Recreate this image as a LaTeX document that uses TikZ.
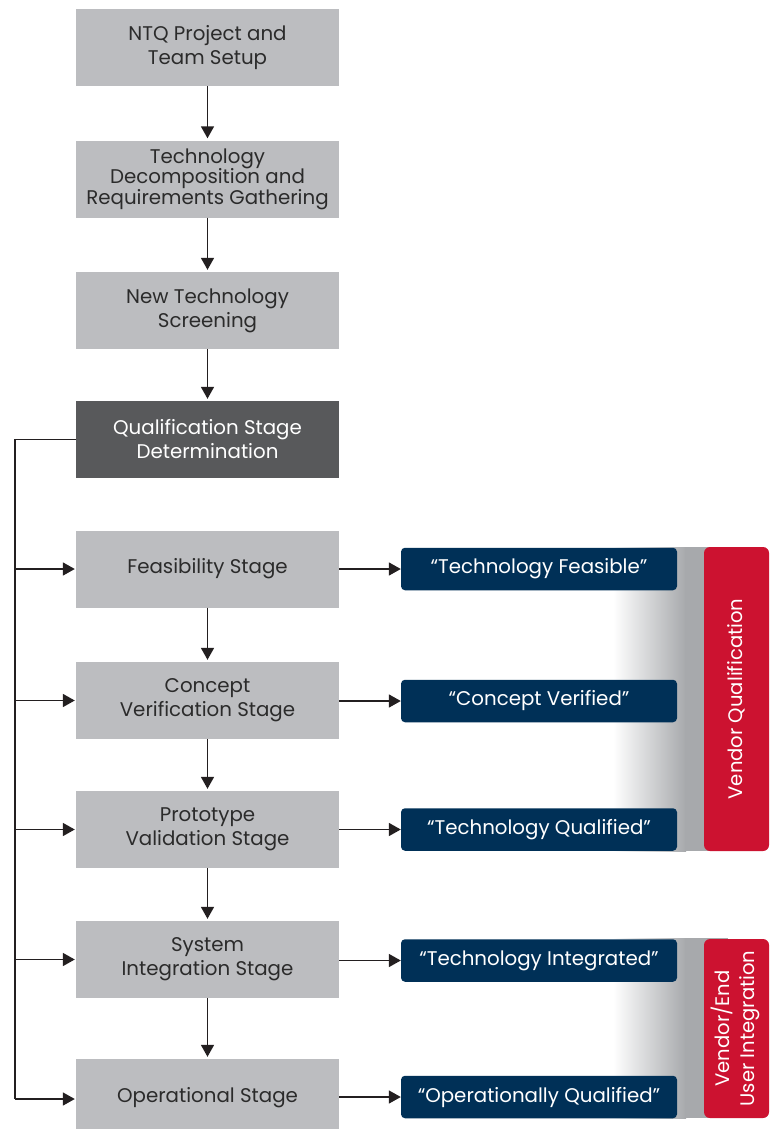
\documentclass[tikz,border=0pt]{standalone}
\usepackage{fontspec}
\setmainfont{Poppins}
\usetikzlibrary{arrows.meta}
\definecolor{boxgray}{HTML}{BCBDC0}
\definecolor{darkbox}{HTML}{58595B}
\definecolor{navy}{HTML}{003057}
\definecolor{crimson}{HTML}{CC1230}
\definecolor{bandgray}{HTML}{A7A9AC}
\definecolor{txt}{HTML}{2B2B2B}
\definecolor{linec}{HTML}{231F20}
\tikzset{
  stagebox/.style={fill=boxgray, minimum width=263pt, minimum height=77pt,
    inner sep=0pt, align=center, text=txt, font=\fontsize{19.8}{24}\selectfont},
  darkstage/.style={stagebox, fill=darkbox, text=white},
  resultbox/.style={fill=navy, rounded corners=4pt, minimum width=276pt,
    minimum height=42.5pt, inner sep=0pt, text=white,
    font=\fontsize{19.8}{24}\selectfont},
  groupbox/.style={fill=crimson, rounded corners=6pt, minimum width=65pt,
    inner sep=0pt, text=white, align=center,
    font=\fontsize{19.6}{25}\selectfont},
  arr/.style={draw=linec, line width=1.6pt,
    -{Triangle[length=12pt,width=13pt]}},
  wire/.style={draw=linec, line width=1.6pt}
}
\begin{document}
\begin{tikzpicture}[x=1pt,y=-1pt]
\clip (0,0) rectangle (771,1129);
\fill[white] (0,0) rectangle (771,1129);

% gray bands fading out behind the result boxes
\shade[left color=white, right color=bandgray] (613,547) rectangle (686,851);
\fill[bandgray] (685,547) rectangle (728,851);
\shade[left color=white, right color=bandgray] (613,938) rectangle (686,1118);
\fill[bandgray] (685,938) rectangle (728,1118);

% main column of stages
\node[stagebox] (n1) at (207.5,47.5) {NTQ Project and\\Team Setup};
\node[stagebox, font=\fontsize{19.8}{20.5}\selectfont] (n2) at (207.5,179)
  {Technology\\Decomposition and\\Requirements Gathering};
\node[stagebox] (n3) at (207.5,310.5) {New Technology\\Screening};
\node[darkstage] (n4) at (207.5,439.5) {Qualification Stage\\Determination};
\node[stagebox] (f) at (207.5,569) {Feasibility Stage};
\node[stagebox] (c) at (207.5,700.5) {Concept\\Verification Stage};
\node[stagebox] (p) at (207.5,829.5) {Prototype\\Validation Stage};
\node[stagebox] (s) at (207.5,959.5) {System\\Integration Stage};
\node[stagebox] (o) at (207.5,1097.5) {Operational Stage};

% results
\node[resultbox] (b1) at (539,569) {“Technology Feasible”};
\node[resultbox] (b2) at (539,701) {“Concept Verified”};
\node[resultbox] (b3) at (539,829.5) {“Technology Qualified”};
\node[resultbox] (b4) at (539,960.5) {“Technology Integrated”};
\node[resultbox] (b5) at (539,1097) {“Operationally Qualified”};

% groupings
\node[groupbox, minimum height=304pt] (g1) at (736.5,699)
  {\rotatebox{90}{Vendor Qualification}};
\node[groupbox, minimum height=179pt] (g2) at (736.5,1028.5)
  {\rotatebox{90}{\begin{tabular}{@{}c@{}}Vendor/End\\User Integration\end{tabular}}};

% downward flow
\foreach \a/\b in {n1/n2, n2/n3, n3/n4, f/c, c/p, p/s, s/o}
  \draw[arr, shorten >=2pt] (\a.south) -- (\b.north);

% left distribution bus
\coordinate (busTop) at (15,439.5);
\coordinate (busBot) at (15,1099);
\draw[wire] (n4.west) -- (busTop) -- (busBot);
\foreach \t in {f, c, p, s}
  \draw[arr, shorten >=1pt] (\t.west -| busTop) -- (\t.west);
\draw[arr, shorten >=1pt] (busBot) -- (busBot -| o.west);

% stage to result
\draw[arr] (b1.west -| f.east) -- (b1.west);
\draw[arr] (b2.west -| c.east) -- (b2.west);
\draw[arr] (b3.west -| p.east) -- (b3.west);
\draw[arr] (b4.west -| s.east) -- (b4.west);
\draw[arr] (b5.west -| o.east) -- (b5.west);
\end{tikzpicture}
\end{document}
